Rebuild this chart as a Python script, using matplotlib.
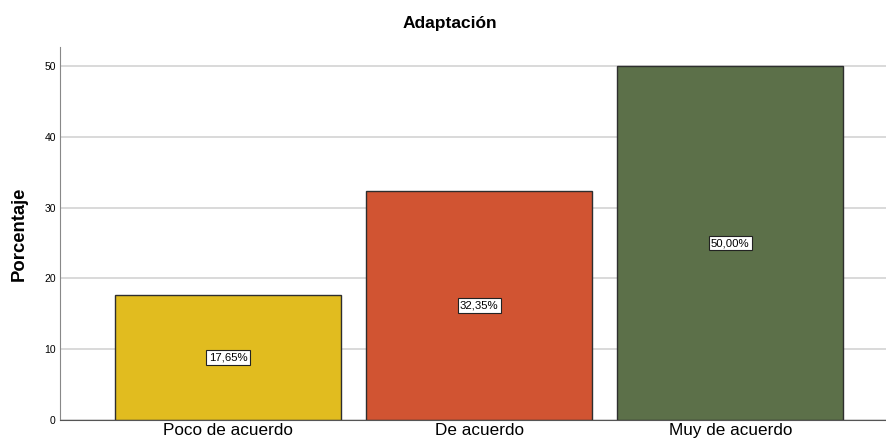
import matplotlib
matplotlib.use("Agg")
import matplotlib.pyplot as plt

plt.rcParams["font.family"] = ["Liberation Sans", "DejaVu Sans"]

categories = ["Poco de acuerdo", "De acuerdo", "Muy de acuerdo"]
percentages = [17.65, 32.35, 50.00]
bar_colors = ["#E1BC1F", "#D15432", "#5C7049"]
y_ticks = [0, 10, 20, 30, 40, 50]

fig = plt.figure(figsize=(8.86, 4.47), dpi=100)
ax = fig.add_axes([0.0677, 0.0604, 0.9323, 0.8346])

x = list(range(len(categories)))
ax.set_axisbelow(True)
ax.yaxis.grid(True, color="#D3D3D3", lw=1.2)
bars = ax.bar(x, percentages, width=0.9, color=bar_colors,
              edgecolor="#2E2E2E", linewidth=1.0)

for xi, val in zip(x, percentages):
    ax.text(xi, val / 2, f"{val:.2f}%".replace(".", ","),
            ha="center", va="center", fontsize=8.2,
            bbox=dict(boxstyle="square,pad=0.2", fc="white", ec="#222", lw=0.8))

ax.set_xlim(-0.669, 2.62)
ax.set_ylim(0, 52.7)
ax.set_yticks(y_ticks)
ax.set_yticklabels([str(t) for t in y_ticks], fontsize=7.5)
ax.set_xticks(x)
ax.set_xticklabels(categories, fontsize=12.3)
ax.tick_params(axis="both", length=0, pad=3)
ax.tick_params(axis="x", pad=2)

for side in ["top", "right"]:
    ax.spines[side].set_visible(False)
ax.spines["left"].set_color("#888888")
ax.spines["bottom"].set_color("#555555")

ax.set_ylabel("Porcentaje", fontsize=13.3, fontweight="bold", labelpad=12)
fig.text(0.508, 0.948, "Adaptación", ha="center", va="center",
         fontsize=12.5, fontweight="bold")

fig.savefig("out.png", dpi=100)
